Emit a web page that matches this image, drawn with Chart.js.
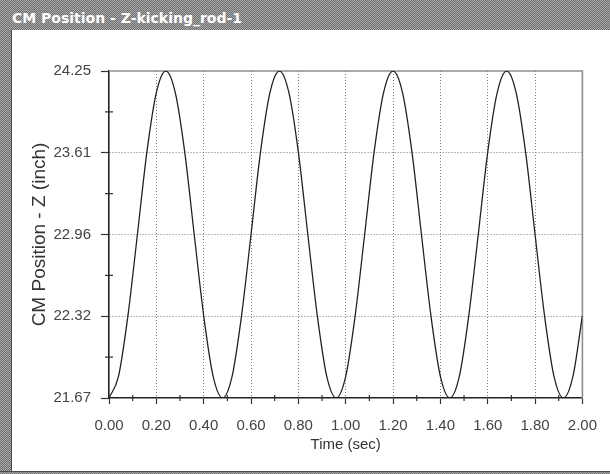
<!DOCTYPE html>
<html>
<head>
    <meta charset="UTF-8">
    <title>CM Position - Z-kicking_rod-1</title>
    <script src="https://cdn.jsdelivr.net/npm/chart.js"></script>
    <style>
        body { margin: 0; width: 610px; height: 474px; overflow: hidden; background: #fff; position: relative; }
        .dither { position: absolute; background: repeating-conic-gradient(#6f6f6f 0 25%, #a9a9a9 0 50%) 0 0 / 2px 2px; }
        #titleBar { left: 0; top: 0; width: 610px; height: 30px; }
        #titleBar span { position: absolute; left: 12px; top: 10px; font: bold 14px "DejaVu Sans", sans-serif; color: #fff; line-height: 16px; }
        #leftEdge { left: 0; top: 30px; width: 11px; height: 444px; border-right: 1px solid #4a4a4a; }
        #bottomEdge { left: 0; top: 471px; width: 610px; height: 3px; border-top: 1px solid #4a4a4a; }
        #myChart { position: absolute; left: 0; top: 0; }
    </style>
</head>
<body>
    <div id="titleBar" class="dither"><span>CM Position - Z-kicking_rod-1</span></div>
    <div id="leftEdge" class="dither"></div>
    <div id="bottomEdge" class="dither"></div>
    <canvas id="myChart" width="610" height="474"></canvas>

    <script>
        // sampled centre-of-mass height over time
        const times = [0.00, 0.04, 0.08, 0.12, 0.16, 0.20, 0.24, 0.28, 0.32, 0.36,
                       0.40, 0.44, 0.48, 0.52, 0.56, 0.60, 0.64, 0.68, 0.72, 0.76,
                       0.80, 0.84, 0.88, 0.92, 0.96, 1.00, 1.04, 1.08, 1.12, 1.16,
                       1.20, 1.24, 1.28, 1.32, 1.36, 1.40, 1.44, 1.48, 1.52, 1.56,
                       1.60, 1.64, 1.68, 1.72, 1.76, 1.80, 1.84, 1.88, 1.92, 1.96, 2.00];
        const zPos = [21.67, 21.84, 22.32, 22.96, 23.61, 24.08, 24.25, 24.08, 23.61, 22.96,
                      22.32, 21.84, 21.67, 21.84, 22.32, 22.96, 23.61, 24.08, 24.25, 24.08,
                      23.61, 22.96, 22.32, 21.84, 21.67, 21.84, 22.32, 22.96, 23.61, 24.08,
                      24.25, 24.08, 23.61, 22.96, 22.32, 21.84, 21.67, 21.84, 22.32, 22.96,
                      23.61, 24.08, 24.25, 24.08, 23.61, 22.96, 22.32, 21.84, 21.67, 21.84, 22.32];

        const xTickValues = [0, 0.2, 0.4, 0.6, 0.8, 1.0, 1.2, 1.4, 1.6, 1.8, 2.0];
        const xTickLabels = ['0.00', '0.20', '0.40', '0.60', '0.80', '1.00', '1.20', '1.40', '1.60', '1.80', '2.00'];
        const yTickValues = [21.67, 22.315, 22.96, 23.605, 24.25];
        const yTickLabels = ['21.67', '22.32', '22.96', '23.61', '24.25'];

        const labelFont = { family: 'Liberation Sans', size: 15 };
        const hideEdges = (ctx) => (ctx.index === 0 || ctx.index === ctx.scale.ticks.length - 1) ? 'rgba(0,0,0,0)' : '#7c7c7c';

        // solid top/right frame plus the small in-between tick marks
        const plotFrame = {
            id: 'plotFrame',
            beforeDatasetsDraw(chart) {
                const { ctx, chartArea: a } = chart;
                ctx.save();
                ctx.strokeStyle = '#8e8e8e';
                ctx.lineWidth = 1.6;
                ctx.beginPath();
                ctx.moveTo(a.left, a.top);
                ctx.lineTo(a.right, a.top);
                ctx.lineTo(a.right, a.bottom);
                ctx.stroke();
                ctx.restore();
            },
            afterDraw(chart) {
                const { ctx, chartArea: a, scales } = chart;
                ctx.save();
                ctx.strokeStyle = '#333';
                ctx.lineWidth = 1.2;
                ctx.beginPath();
                for (let i = 0; i < xTickValues.length - 1; i++) {
                    const x = scales.x.getPixelForValue((xTickValues[i] + xTickValues[i + 1]) / 2);
                    ctx.moveTo(x, a.bottom - 3);
                    ctx.lineTo(x, a.bottom + 3);
                }
                for (let i = 0; i < yTickValues.length - 1; i++) {
                    const y = scales.y.getPixelForValue((yTickValues[i] + yTickValues[i + 1]) / 2);
                    ctx.moveTo(a.left - 4, y);
                    ctx.lineTo(a.left + 4, y);
                }
                ctx.stroke();
                ctx.restore();
            }
        };

        new Chart(document.getElementById('myChart'), {
            type: 'line',
            data: {
                datasets: [{
                    data: times.map((t, i) => ({ x: t, y: zPos[i] })),
                    borderColor: '#222',
                    borderWidth: 1.3,
                    pointRadius: 0,
                    cubicInterpolationMode: 'monotone',
                    fill: false
                }]
            },
            options: {
                responsive: false,
                animation: false,
                devicePixelRatio: 1,
                layout: { padding: { left: 12, top: 71, right: 27, bottom: 0 } },
                plugins: {
                    legend: { display: false },
                    tooltip: { enabled: false }
                },
                scales: {
                    x: {
                        type: 'linear',
                        min: 0,
                        max: 2,
                        afterBuildTicks: (s) => { s.ticks = xTickValues.map(v => ({ value: v })); },
                        afterFit: (s) => { s.height = 76; },
                        ticks: {
                            callback: (v, i) => xTickLabels[i],
                            font: labelFont,
                            color: '#444',
                            padding: 13,
                            maxRotation: 0,
                            autoSkip: false
                        },
                        grid: { color: hideEdges, lineWidth: 1, tickLength: 6, tickColor: '#333', tickWidth: 1.2 },
                        border: { color: '#222', width: 1.6, dash: [1, 2] },
                        title: {
                            display: true,
                            text: 'Time (sec)',
                            font: labelFont,
                            color: '#333',
                            padding: { top: 0, bottom: 20 }
                        }
                    },
                    y: {
                        min: 21.67,
                        max: 24.25,
                        afterBuildTicks: (s) => { s.ticks = yTickValues.map(v => ({ value: v })); },
                        afterFit: (s) => { s.width = 97; },
                        ticks: {
                            callback: (v, i) => yTickLabels[i],
                            font: labelFont,
                            color: '#444',
                            padding: 10
                        },
                        grid: { color: hideEdges, lineWidth: 1, tickLength: 8, tickColor: '#333', tickWidth: 1.2 },
                        border: { color: '#222', width: 1.6, dash: [1, 2] },
                        title: {
                            display: true,
                            text: 'CM Position - Z (inch)',
                            font: { family: 'Liberation Sans', size: 19 },
                            color: '#333',
                            padding: { top: 16, bottom: 0 }
                        }
                    }
                }
            },
            plugins: [plotFrame]
        });
    </script>
</body>
</html>
